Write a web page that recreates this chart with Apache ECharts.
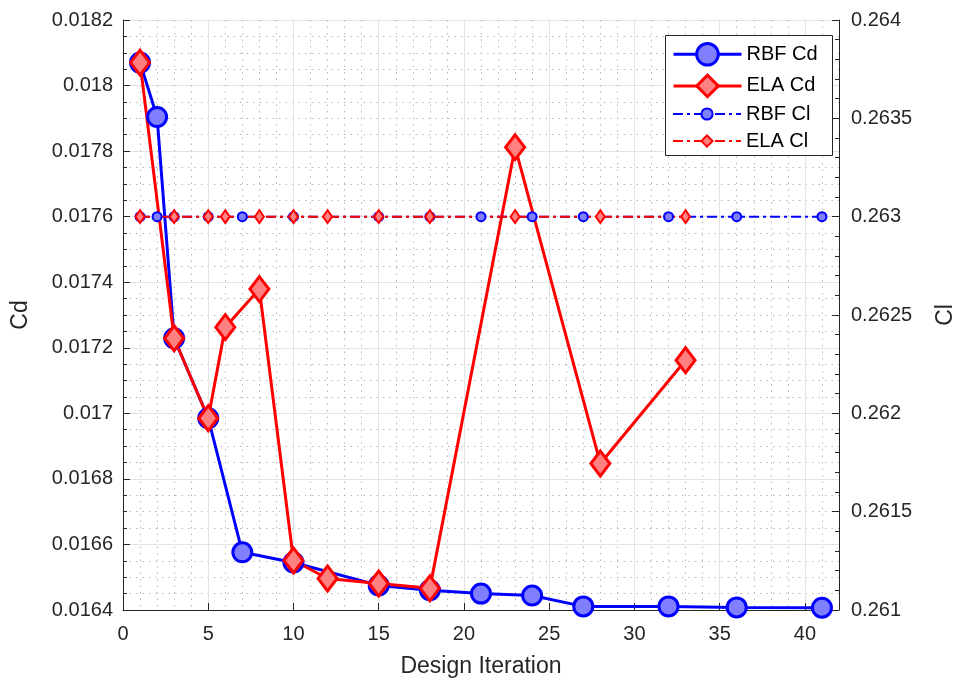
<!DOCTYPE html>
<html>
<head>
<meta charset="utf-8">
<script src="https://cdn.jsdelivr.net/npm/echarts@6/dist/echarts.min.js"></script>
<style>
html,body{margin:0;padding:0;background:#fff;}
#chart{width:965px;height:687px;}
</style>
</head>
<body>
<div id="chart"></div>
<script>
// ---- data ----
const xRBF = [1, 2, 3, 5, 7, 10, 15, 18, 21, 24, 27, 32, 36, 41];
const cdRBF = [0.01807, 0.017904, 0.017229, 0.016985, 0.016576, 0.016545, 0.016475, 0.01646, 0.01645, 0.016444, 0.016411, 0.016411, 0.016408, 0.016407];
const clRBF = [0.263, 0.263, 0.263, 0.263, 0.263, 0.263, 0.263, 0.263, 0.263, 0.263, 0.263, 0.263, 0.263, 0.263];
const xELA = [1, 3, 5, 6, 8, 10, 12, 15, 18, 23, 28, 33];
const cdELA = [0.01807, 0.017229, 0.016985, 0.017263, 0.017379, 0.016551, 0.016496, 0.016481, 0.016466, 0.017812, 0.016847, 0.017162];
const clELA = [0.263, 0.263, 0.263, 0.263, 0.263, 0.263, 0.263, 0.263, 0.263, 0.263, 0.263, 0.263];
const seriesNames = ['RBF Cd', 'ELA Cd', 'RBF Cl', 'ELA Cl'];
const xAxisTitle = 'Design Iteration';
const yLeftTitle = 'Cd';
const yRightTitle = 'Cl';

function pairs(xs, ys) { return xs.map((x, i) => [x, ys[i]]); }

const FONT = 'Liberation Sans, Arial, Helvetica, sans-serif';
const AX = '#262626';
const BLUE = '#0000ff', BLUE_F = '#8080ff';
const RED = '#ff0000', RED_F = '#ff8080';
const DASHDOT = [10, 4, 3, 4];

const chart = echarts.init(document.getElementById('chart'), null, {renderer: 'canvas'});

const option = {
  backgroundColor: '#ffffff',
  animation: false,
  grid: {left: 123, right: 122, top: 20, bottom: 77, containLabel: false},
  xAxis: {
    type: 'value', min: 0, max: 42, interval: 5,
    name: xAxisTitle, nameLocation: 'middle', nameGap: 45,
    nameTextStyle: {fontFamily: FONT, fontSize: 23, color: AX},
    axisLine: {show: true, lineStyle: {color: AX, width: 1}},
    axisTick: {show: true, inside: true, length: 7, lineStyle: {color: AX}},
    axisLabel: {fontFamily: FONT, fontSize: 20, color: AX, margin: 14, showMaxLabel: false,
      formatter: v => (v % 5 === 0 ? String(v) : '')},
    splitLine: {show: true, lineStyle: {color: '#e3e3e3', width: 1}},
    minorTick: {show: false, splitNumber: 5},
    minorSplitLine: {show: true, lineStyle: {color: '#b8b8b8', width: 1, type: [1.5, 5]}}
  },
  yAxis: [
    {
      type: 'value', position: 'left', min: 0.0164, max: 0.0182, interval: 0.0002,
      name: yLeftTitle, nameLocation: 'middle', nameGap: 91, nameRotate: 90,
      nameTextStyle: {fontFamily: FONT, fontSize: 23, color: AX},
      axisLine: {show: true, lineStyle: {color: AX, width: 1}},
      axisTick: {show: true, inside: true, length: 7, lineStyle: {color: AX}},
      minorTick: {show: true, splitNumber: 4, length: 4, lineStyle: {color: AX}},
      axisLabel: {fontFamily: FONT, fontSize: 20, color: AX, margin: 10,
        formatter: v => String(parseFloat(v.toFixed(6)))},
      splitLine: {show: true, lineStyle: {color: '#e3e3e3', width: 1}},
      minorSplitLine: {show: true, lineStyle: {color: '#b8b8b8', width: 1, type: [1.5, 5]}}
    },
    {
      type: 'value', position: 'right', min: 0.261, max: 0.264, interval: 0.0005,
      name: yRightTitle, nameLocation: 'middle', nameGap: 95, nameRotate: 90,
      nameTextStyle: {fontFamily: FONT, fontSize: 23, color: AX},
      axisLine: {show: true, lineStyle: {color: AX, width: 1}},
      axisTick: {show: true, inside: true, length: 7, lineStyle: {color: AX}},
      minorTick: {show: true, splitNumber: 5, length: 4, lineStyle: {color: AX}},
      axisLabel: {fontFamily: FONT, fontSize: 20, color: AX, margin: 12,
        formatter: v => String(parseFloat(v.toFixed(6)))},
      splitLine: {show: false},
      minorSplitLine: {show: false}
    }
  ],
  graphic: [{
    type: 'rect', z: 3, zlevel: 0,
    shape: {x: 665.5, y: 35.5, width: 167, height: 120},
    style: {fill: '#ffffff', stroke: AX, lineWidth: 1}
  }],
  legend: [
    {
      orient: 'vertical', left: 667, top: 37, z: 5,
      itemWidth: 68, itemHeight: 27, itemGap: 7,
      textStyle: {fontFamily: FONT, fontSize: 20, color: '#000'},
      data: [
        {name: seriesNames[0], itemStyle: {color: BLUE_F, borderColor: BLUE, borderWidth: 3}, lineStyle: {color: BLUE, width: 3}},
        {name: seriesNames[1], itemStyle: {color: RED_F, borderColor: RED, borderWidth: 3}, lineStyle: {color: RED, width: 3}}
      ],
      selectedMode: false
    },
    {
      orient: 'vertical', left: 667, top: 99, z: 5,
      itemWidth: 68, itemHeight: 14, itemGap: 7,
      textStyle: {fontFamily: FONT, fontSize: 20, color: '#000'},
      data: [
        {name: seriesNames[2], itemStyle: {color: BLUE_F, borderColor: BLUE, borderWidth: 2}, lineStyle: {color: BLUE, width: 2, type: DASHDOT}},
        {name: seriesNames[3], itemStyle: {color: RED_F, borderColor: RED, borderWidth: 2}, lineStyle: {color: RED, width: 2, type: DASHDOT}}
      ],
      selectedMode: false
    }
  ],
  series: [
    {
      name: seriesNames[0], type: 'line', yAxisIndex: 0, data: pairs(xRBF, cdRBF),
      symbol: 'circle', symbolSize: 19, showAllSymbol: true,
      lineStyle: {color: BLUE, width: 3},
      itemStyle: {color: BLUE_F, borderColor: BLUE, borderWidth: 3},
      z: 2
    },
    {
      name: seriesNames[1], type: 'line', yAxisIndex: 0, data: pairs(xELA, cdELA),
      symbol: 'diamond', symbolSize: [19, 25], showAllSymbol: true,
      lineStyle: {color: RED, width: 3},
      itemStyle: {color: RED_F, borderColor: RED, borderWidth: 3},
      z: 2
    },
    {
      name: seriesNames[2], type: 'line', yAxisIndex: 1, data: pairs(xRBF, clRBF),
      symbol: 'circle', symbolSize: 9, showAllSymbol: true,
      lineStyle: {color: BLUE, width: 2, type: DASHDOT},
      itemStyle: {color: BLUE_F, borderColor: BLUE, borderWidth: 2},
      z: 2
    },
    {
      name: seriesNames[3], type: 'line', yAxisIndex: 1, data: pairs(xELA, clELA),
      symbol: 'diamond', symbolSize: [9, 13], showAllSymbol: true,
      lineStyle: {color: RED, width: 2, type: DASHDOT},
      itemStyle: {color: RED_F, borderColor: RED, borderWidth: 2},
      z: 2
    }
  ]
};
chart.setOption(option);
</script>
</body>
</html>
